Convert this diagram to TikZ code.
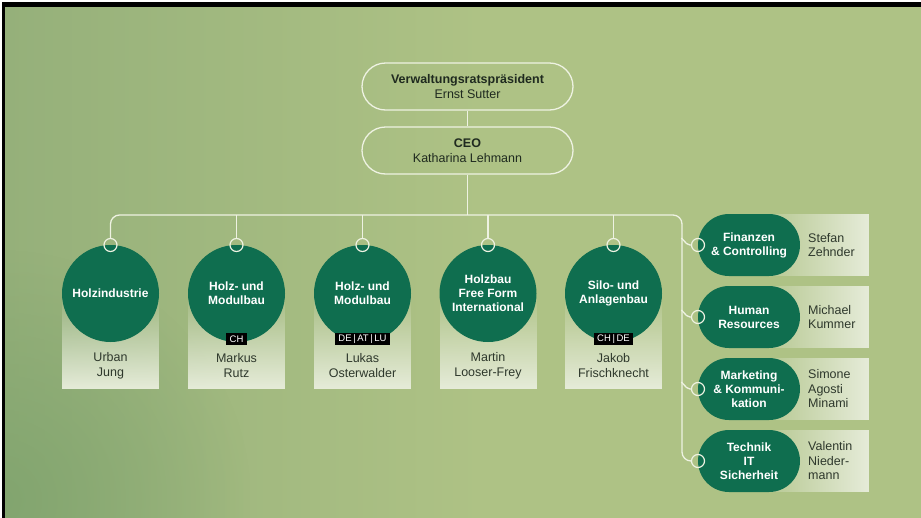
\documentclass[tikz,border=0pt]{standalone}
\usepackage{fontspec}
\setmainfont{Liberation Sans}
\usetikzlibrary{shapes.misc,fadings,calc}
\definecolor{bgL}{HTML}{95B07A}
\definecolor{bgM}{HTML}{AEC285}
\definecolor{bgD}{HTML}{82A56F}
\definecolor{dg}{HTML}{0F6E4F}
\definecolor{ln}{HTML}{EEF2E2}
\definecolor{lt}{HTML}{E6ECD9}
\definecolor{tx}{HTML}{1F2A1F}
\definecolor{nm}{HTML}{2E382C}
\tikzfading[name=fadeup, top color=transparent!100, bottom color=transparent!0]
\tikzfading[name=fadeleft, left color=transparent!100, right color=transparent!0]
\tikzfading[name=blob, inner color=transparent!0, outer color=transparent!100]
\begin{document}
\begin{tikzpicture}[x=1pt,y=-1pt,
  conn/.style={draw=ln, line width=1.3pt},
  topbox/.style={rounded rectangle, draw=ln, line width=1.3pt, minimum width=211pt, minimum height=47pt, inner sep=0pt, align=center, text=tx, font=\fontsize{12.5}{15.5}\selectfont},
  unitbox/.style={circle, fill=dg, minimum size=97pt, inner sep=0pt, align=center, text=white, font=\bfseries\fontsize{12}{14}\selectfont},
  staffbox/.style={rounded rectangle, fill=dg, minimum width=102pt, minimum height=62pt, inner sep=0pt, align=center, text=white, font=\bfseries\fontsize{12}{14}\selectfont},
  tagbox/.style={fill=black, text=white, font=\fontsize{9.5}{10}\selectfont, inner xsep=3.5pt, inner ysep=1.5pt, minimum height=12.5pt},
  pname/.style={align=center, text=nm, font=\fontsize{12.5}{15}\selectfont, inner sep=0pt},
  rname/.style={align=left, anchor=west, text=nm, font=\fontsize{12.5}{14.5}\selectfont, inner sep=0pt},
  knob/.style={circle, draw=ln, line width=1.2pt, minimum size=13pt, inner sep=0pt}]
\useasboundingbox (0,0) rectangle (921,517);
% background
\begin{scope}
\clip (0,0) rectangle (921,517);
\fill[white] (-2,-2) rectangle (925,520);
\shade[left color=bgL, right color=bgM] (5,7) rectangle (481,520);
\fill[bgM] (480,7) rectangle (925,520);
\begin{scope}
\clip (5,7) rectangle (925,520);
\fill[bgD, path fading=blob] (-250,250) rectangle (250,750);
\end{scope}
\fill[black] (1.5,1.5) rectangle (925,7);
\fill[black] (1.5,1.5) rectangle (5,520);
\end{scope}
% name panels
\foreach \x in {110.5,236.5,362.5,488,613.5}
  \fill[lt, path fading=fadeup] (\x-48.5,292) rectangle (\x+48.5,389);
\foreach \y in {245,317,389,461}
  \fill[lt, path fading=fadeleft] (748,\y-31) rectangle (869,\y+31);
% top boxes
\node[topbox] (vr) at (467.5,86.5) {\textbf{Verwaltungsratspräsident}\\Ernst Sutter};
\node[topbox] (ceo) at (467.5,150.5) {\textbf{CEO}\\Katharina Lehmann};
% units
\node[unitbox] (u1) at (110.5,293.5) {Holzindustrie};
\node[unitbox] (u2) at (236.5,293.5) {Holz- und\\Modulbau};
\node[unitbox] (u3) at (362.5,293.5) {Holz- und\\Modulbau};
\node[unitbox] (u4) at (488,293.5) {Holzbau\\Free Form\\International};
\node[unitbox] (u5) at (613.5,293.5) {Silo- und\\Anlagenbau};
\node[tagbox] (t2) at (236.5,339) {CH};
\node[tagbox] (t3) at (362.5,339) {DE\,|\,AT\,|\,LU};
\node[tagbox] (t5) at (613.5,339) {CH\,|\,DE};
\node[pname] (n1) at (110.5,366) {Urban\\Jung};
\node[pname] (n2) at (236.5,366) {Markus\\Rutz};
\node[pname] (n3) at (362.5,366) {Lukas\\Osterwalder};
\node[pname] (n4) at (488,366) {Martin\\Looser-Frey};
\node[pname] (n5) at (613.5,366) {Jakob\\Frischknecht};
% staff units
\node[staffbox] (s1) at (749,245) {Finanzen\\\& Controlling};
\node[staffbox] (s2) at (749,317) {Human\\Resources};
\node[staffbox] (s3) at (749,389) {Marketing\\\& Kommuni-\\kation};
\node[staffbox] (s4) at (749,461) {Technik\\IT\\Sicherheit};
\node[rname] (m1) at (808,245) {Stefan\\Zehnder};
\node[rname] (m2) at (808,317) {Michael\\Kummer};
\node[rname] (m3) at (808,389) {Simone\\Agosti\\Minami};
\node[rname] (m4) at (808,461) {Valentin\\Nieder-\\mann};
% knobs
\node[knob] (k1) at (110.5,245) {};
\node[knob] (k2) at (236.5,245) {};
\node[knob] (k3) at (362.5,245) {};
\node[knob] (k4) at (488,245) {};
\node[knob] (k5) at (613.5,245) {};
\node[knob] (r1) at (698,245) {};
\node[knob] (r2) at (698,317) {};
\node[knob] (r3) at (698,389) {};
\node[knob] (r4) at (698,461) {};
% connectors
\coordinate (bus) at (682,215);
\draw[conn] (vr.south) -- (ceo.north);
\draw[conn] (ceo.south) -- (ceo.south |- bus);
\draw[conn, rounded corners=9pt] (k1.north) |- (bus) |- (r4.west);
\foreach \k in {k2,k3,k4,k5}
  \draw[conn] (\k.north) -- (\k.north |- bus);
\foreach \r in {r1,r2,r3}
  \draw[conn, rounded corners=2pt] ($(\r.west)+(-9.5,-7)$) -- ($(\r.west)+(-3,0)$) -- (\r.west);
\end{tikzpicture}
\end{document}
